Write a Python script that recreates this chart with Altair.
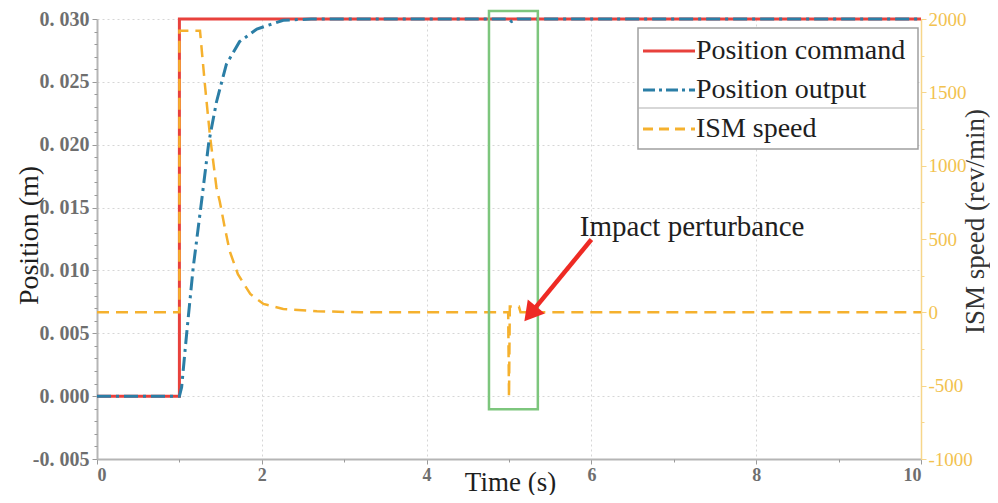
import altair as alt
import pandas as pd

# ---------------- data ----------------
cmd_t = [0.0, 1.0, 1.0, 10.0]
cmd_v = [0.0, 0.0, 0.030, 0.030]

out_t = [0.0, 1.0, 1.027, 1.087, 1.167, 1.269, 1.357, 1.45, 1.57, 1.73, 1.94, 2.26, 2.6, 5.0, 5.03, 5.1, 10.0]
out_v = [0.0, 0.0, 0.0007, 0.0049, 0.0102, 0.0155, 0.0202, 0.0234, 0.0264, 0.0282, 0.0292, 0.0299, 0.0300,
         0.0300, 0.0298, 0.0300, 0.0300]

spd_t = [0.0, 1.0, 1.0, 1.25, 1.31, 1.37, 1.45, 1.49, 1.55, 1.61, 1.71, 1.86, 2.02, 2.26, 2.67, 3.2,
         4.99, 5.0, 5.01, 5.12, 5.14, 10.0]
spd_v = [0, 0, 1920, 1920, 1550, 1210, 850, 756, 580, 418, 260, 125, 57, 23, 8, 0,
         0, -580, 40, 40, 0, 0]

x_ticks = [0, 2, 4, 6, 8, 10]
x_minor = [1, 3, 5, 7, 9]
pos_ticks = [-0.005, 0.0, 0.005, 0.010, 0.015, 0.020, 0.025, 0.030]
pos_minor = [-0.004, -0.003, -0.002, -0.001, 0.001, 0.002, 0.003, 0.004, 0.006, 0.007, 0.008, 0.009,
             0.011, 0.012, 0.013, 0.014, 0.016, 0.017, 0.018, 0.019, 0.021, 0.022, 0.023, 0.024,
             0.026, 0.027, 0.028, 0.029]
spd_ticks = [-1000, -500, 0, 500, 1000, 1500, 2000]
spd_minor = [-750, -250, 250, 750, 1250, 1750]

legend_labels = ["Position command", "Position output", "ISM speed"]

box_t = [4.757, 5.35]          # highlight box (time)
box_v = [-0.00105, 0.03063]    # highlight box (position)
arrow_t = [6.0, 5.283]         # arrow tail -> head centre
arrow_v = [0.01246, 0.00674]
annot_t = [5.86]
annot_v = [0.0127]
annot_text = ["Impact perturbance"]

# ---------------- styling ----------------
SERIF = "Liberation Serif"
RED = "#e8413c"
BLUE = "#2b7ea6"
ORANGE = "#f5b12e"
GREEN = "#7dc67d"
AXIS_GRAY = "#9a9a9a"
ORANGE_AXIS = "#f7d68a"

W, H = 824, 440

xs = alt.Scale(domain=[0, 10], nice=False, zero=False)
pos_scale = alt.Scale(domain=[-0.005, 0.030], nice=False, zero=False)
spd_scale = alt.Scale(domain=[-1000, 2000], nice=False, zero=False)

x_axis = alt.Axis(
    orient="bottom", values=x_ticks, format="d", title="Time (s)",
    grid=True, gridDash=[2, 3], gridColor="#d6d6d6",
    domainColor="#b5b5b5", domainWidth=2, tickColor=AXIS_GRAY, tickSize=5,
    labelFont=SERIF, labelFontSize=18, labelFontWeight="bold", labelColor="#6e6e6e", labelPadding=2,
    titleFont=SERIF, titleFontSize=27, titleFontWeight="normal", titleColor="#1e1e1e",
    titleX=413, titleY=31, titleAlign="center", titleBaseline="alphabetic",
)

x_minor_axis = alt.Axis(
    orient="bottom", values=x_minor, labels=False, domain=False, grid=False,
    ticks=True, tickSize=3, tickColor=AXIS_GRAY, title="",
)

pos_axis = alt.Axis(
    orient="left", values=pos_ticks,
    labelExpr="replace(replace(format(datum.value, '.3f'), '.', '. '), '\u2212', '-')",
    grid=True, gridDash=[2, 3], gridColor="#d6d6d6",
    domainColor="#b5b5b5", domainWidth=2, tickColor=AXIS_GRAY, tickSize=5,
    labelFont=SERIF, labelFontSize=20, labelFontWeight="bold", labelColor="#6e6e6e", labelPadding=3,
    title="Position (m)", titleFont=SERIF, titleFontSize=28, titleFontWeight="normal", titleColor="#1e1e1e",
    titleAngle=270, titleX=-60, titleY=216, titleAlign="center", titleBaseline="alphabetic",
)

pos_minor_axis = alt.Axis(
    orient="left", values=pos_minor, labels=False, domain=False, grid=False,
    ticks=True, tickSize=3, tickColor=AXIS_GRAY, title="",
)

spd_axis = alt.Axis(
    orient="right", values=spd_ticks, grid=False,
    labelExpr="replace(format(datum.value, 'd'), '\u2212', '-')",
    domainColor=ORANGE_AXIS, domainWidth=1.5, tickColor=ORANGE_AXIS, tickSize=5,
    labelFont=SERIF, labelFontSize=19, labelColor="#f2c24f", labelPadding=2,
    title="ISM speed (rev/min)", titleFont=SERIF, titleFontSize=27, titleFontWeight="normal",
    titleColor="#333333", titleAngle=270, titleX=62, titleY=202, titleAlign="center",
    titleBaseline="alphabetic",
)

spd_minor_axis = alt.Axis(
    orient="right", values=spd_minor, labels=False, domain=False, grid=False,
    ticks=True, tickSize=3, tickColor=ORANGE_AXIS, title="",
)


def series_df(t, v):
    return pd.DataFrame({"t": t, "v": v, "i": list(range(len(t)))})


def X(axis=None):
    if axis is None:
        return alt.X("t:Q", scale=xs, axis=None)
    return alt.X("t:Q", scale=xs, axis=axis)


def Y(scale, axis=None):
    if axis is None:
        return alt.Y("v:Q", scale=scale, axis=None)
    return alt.Y("v:Q", scale=scale, axis=axis)


cmd_line = alt.Chart(series_df(cmd_t, cmd_v)).mark_line(color=RED, strokeWidth=3).encode(
    x=X(x_axis), y=Y(pos_scale, pos_axis), order="i:Q",
)

# invisible layers that only carry the minor tick axes
minor_pos = alt.Chart(series_df(cmd_t, cmd_v)).mark_line(opacity=0).encode(
    x=X(x_minor_axis), y=Y(pos_scale, pos_minor_axis), order="i:Q",
)
minor_spd = alt.Chart(series_df(spd_t, spd_v)).mark_line(opacity=0).encode(
    x=X(), y=Y(spd_scale, spd_minor_axis), order="i:Q",
)

spd_line = alt.Chart(series_df(spd_t, spd_v)).mark_line(
    color=ORANGE, strokeWidth=2.5, strokeDash=[12, 7]
).encode(x=X(), y=Y(spd_scale, spd_axis), order="i:Q")

out_line = alt.Chart(series_df(out_t, out_v)).mark_line(
    color=BLUE, strokeWidth=3, strokeDash=[14, 5, 3, 5]
).encode(x=X(), y=Y(pos_scale), order="i:Q")

box = alt.Chart(pd.DataFrame({"t": [box_t[0]], "t2": [box_t[1]], "v": [box_v[0]], "v2": [box_v[1]]})).mark_rect(
    filled=False, stroke=GREEN, strokeWidth=2.5
).encode(x=X(), x2="t2:Q", y=Y(pos_scale), y2="v2:Q")

shaft = alt.Chart(pd.DataFrame({"t": [arrow_t[0]], "t2": [arrow_t[1]], "v": [arrow_v[0]], "v2": [arrow_v[1]]})).mark_rule(
    color="#ee2a24", strokeWidth=4.5
).encode(x=X(), x2="t2:Q", y=Y(pos_scale), y2="v2:Q")

head = alt.Chart(pd.DataFrame({"t": [arrow_t[1]], "v": [arrow_v[1]]})).mark_point(
    shape="triangle", filled=True, color="#ee2a24", size=480, angle=219, opacity=1
).encode(x=X(), y=Y(pos_scale))

annot = alt.Chart(pd.DataFrame({"t": annot_t, "v": annot_v, "label": annot_text})).mark_text(
    align="left", baseline="alphabetic", font=SERIF, fontSize=29, color="#1e1e1e"
).encode(x=X(), y=Y(pos_scale), text="label:N")

one = pd.DataFrame({"k": [0]})

leg_box = alt.Chart(one).mark_rect(fill="white", stroke="#a0a0a0", strokeWidth=1.5).encode(
    x=alt.value(541), x2=alt.value(821), y=alt.value(9), y2=alt.value(130)
)
leg_sep = alt.Chart(one).mark_rule(color="#b0b0b0", strokeWidth=1.2).encode(
    x=alt.value(541), x2=alt.value(821), y=alt.value(89)
)

leg_colors = [RED, BLUE, ORANGE]
leg_dash = [[1, 0], [12, 4, 3, 4], [10, 6]]
leg_y = [32, 71, 110]
leg_layers = []
for lab, col, dash, yy in zip(legend_labels, leg_colors, leg_dash, leg_y):
    leg_layers.append(
        alt.Chart(one).mark_rule(color=col, strokeWidth=3, strokeDash=dash).encode(
            x=alt.value(546), x2=alt.value(598), y=alt.value(yy)
        )
    )
    leg_layers.append(
        alt.Chart(one).mark_text(
            align="left", baseline="middle", font=SERIF, fontSize=28, color="#1e1e1e", text=lab
        ).encode(x=alt.value(599), y=alt.value(yy))
    )

chart = alt.layer(
    cmd_line, minor_pos, minor_spd, spd_line, out_line, box, shaft, head, annot,
    leg_box, leg_sep, *leg_layers
).resolve_scale(
    x="independent", y="independent"
).properties(
    width=W, height=H,
    autosize=alt.AutoSizeParams(type="none"),
    padding={"left": 89, "top": 11, "right": 69, "bottom": 36},
    background="white",
).configure_view(strokeWidth=0)

chart.save("out.html", embed_options={"renderer": "svg", "actions": False})
